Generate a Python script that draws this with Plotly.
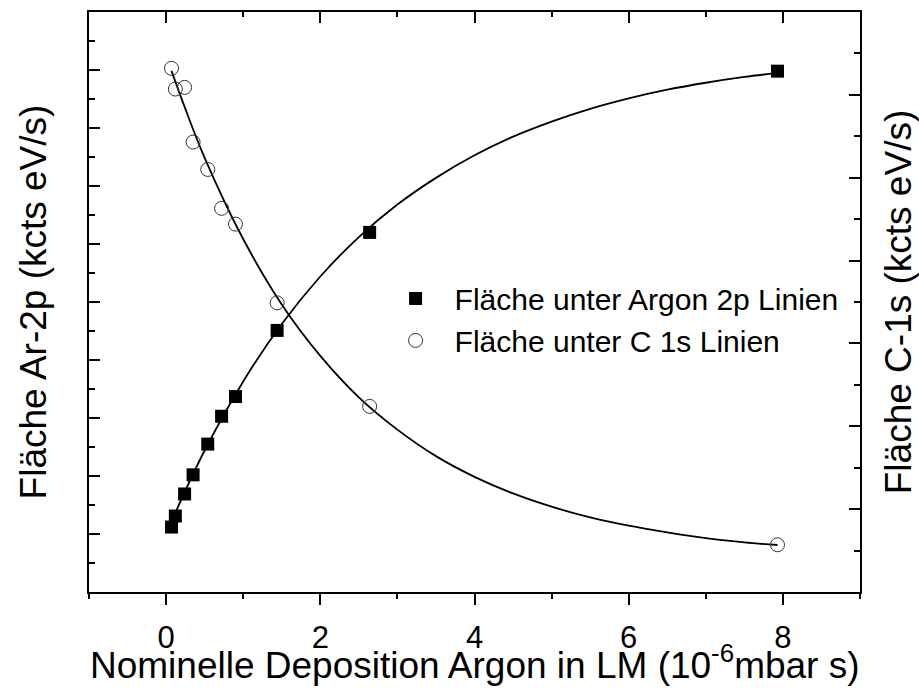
import plotly.graph_objects as go

# Data
dep_x = [0.07, 0.12, 0.24, 0.35, 0.54, 0.72, 0.90, 1.44, 2.64, 7.93]
ar_area = [1.12, 1.31, 1.69, 2.02, 2.55, 3.03, 3.37, 4.51, 6.20, 8.98]
c_area = [6.32, 6.07, 6.09, 5.43, 5.10, 4.63, 4.44, 3.49, 2.24, 0.57]

# Fit curves
fit_x = [0.07, 0.25, 0.5, 1.0, 1.5, 2.0, 2.5, 3.0, 3.5, 4.0, 4.5, 5.0, 5.5, 6.0, 6.5, 7.0, 7.5, 7.93]
fit_ar = [1.21, 1.75, 2.44, 3.63, 4.62, 5.44, 6.12, 6.68, 7.14, 7.53, 7.85, 8.11, 8.33, 8.51, 8.66, 8.78, 8.88, 8.95]
fit_c = [6.29, 5.83, 5.24, 4.26, 3.47, 2.85, 2.35, 1.96, 1.64, 1.39, 1.19, 1.03, 0.90, 0.80, 0.72, 0.65, 0.60, 0.567]

x_title = "Nominelle Deposition Argon in LM (10<sup>-6</sup>mbar s)"
y_title = "Fläche Ar-2p (kcts eV/s)"
y2_title = "Fläche C-1s (kcts eV/s)"

FONT = "Arial, Liberation Sans, sans-serif"

fig = go.Figure()
fig.add_trace(go.Scatter(x=fit_x, y=fit_ar, mode="lines", line=dict(color="black", width=1.8, shape="spline"),
                         showlegend=False, hoverinfo="skip"))
fig.add_trace(go.Scatter(x=fit_x, y=fit_c, mode="lines", line=dict(color="black", width=1.8, shape="spline"),
                         showlegend=False, hoverinfo="skip", yaxis="y2"))
fig.add_trace(go.Scatter(x=dep_x, y=ar_area, mode="markers", name="Fläche unter Argon 2p Linien",
                         marker=dict(symbol="square", size=13, color="black", line=dict(width=0))))
fig.add_trace(go.Scatter(x=dep_x, y=c_area, mode="markers", name="Fläche unter C 1s Linien", yaxis="y2",
                         marker=dict(symbol="circle-open", size=14, color="#333333", line=dict(width=1, color="#333333"))))
# invisible trace to hold the top axis
fig.add_trace(go.Scatter(x=[None], y=[None], xaxis="x2", showlegend=False, hoverinfo="skip"))

tickcommon = dict(showline=True, linewidth=2, linecolor="black", showgrid=False, zeroline=False,
                  tickwidth=2, tickcolor="black", automargin=False)

fig.update_layout(
    width=919, height=690,
    margin=dict(l=89, r=59, t=12, b=98),
    paper_bgcolor="white", plot_bgcolor="white",
    font=dict(family=FONT, size=30, color="black"),
    xaxis=dict(range=[-1, 9], tickvals=[0, 2, 4, 6, 8], ticks="outside", ticklen=11,
               minor=dict(dtick=1, tick0=-1, ticks="outside", ticklen=5, tickwidth=2, tickcolor="black"),
               tickfont=dict(size=31, family=FONT), ticklabelstandoff=6,
               **tickcommon),
    xaxis2=dict(range=[-1, 9], overlaying="x", side="top", tickvals=[0, 2, 4, 6, 8], ticks="inside", ticklen=11,
                minor=dict(dtick=1, tick0=-1, ticks="inside", ticklen=5, tickwidth=2, tickcolor="black"),
                showticklabels=False, **tickcommon),
    yaxis=dict(range=[0, 10], dtick=1, tick0=0, ticks="inside", ticklen=11,
               minor=dict(dtick=0.5, ticks="inside", ticklen=6, tickwidth=2, tickcolor="black"),
               showticklabels=False,
               title=dict(text=y_title, font=dict(size=37, family=FONT), standoff=29),
               **tickcommon),
    yaxis2=dict(range=[0, 7], dtick=1, tick0=0, overlaying="y", side="right", ticks="inside", ticklen=11,
                minor=dict(dtick=0.5, ticks="inside", ticklen=6, tickwidth=2, tickcolor="black"),
                showticklabels=False,
                title=dict(text=y2_title, font=dict(size=37, family=FONT), standoff=25),
                **tickcommon),
    legend=dict(x=0.373, y=0.551, xanchor="left", yanchor="top", bgcolor="rgba(0,0,0,0)",
                font=dict(size=30, family=FONT), tracegroupgap=0, itemwidth=68),
    annotations=[dict(text=x_title, x=0.5, y=0, xref="paper", yref="paper", xanchor="center", yanchor="top",
                      yshift=-46, showarrow=False, font=dict(size=37, family=FONT), borderpad=0)],
)

fig.write_html("out.html")
